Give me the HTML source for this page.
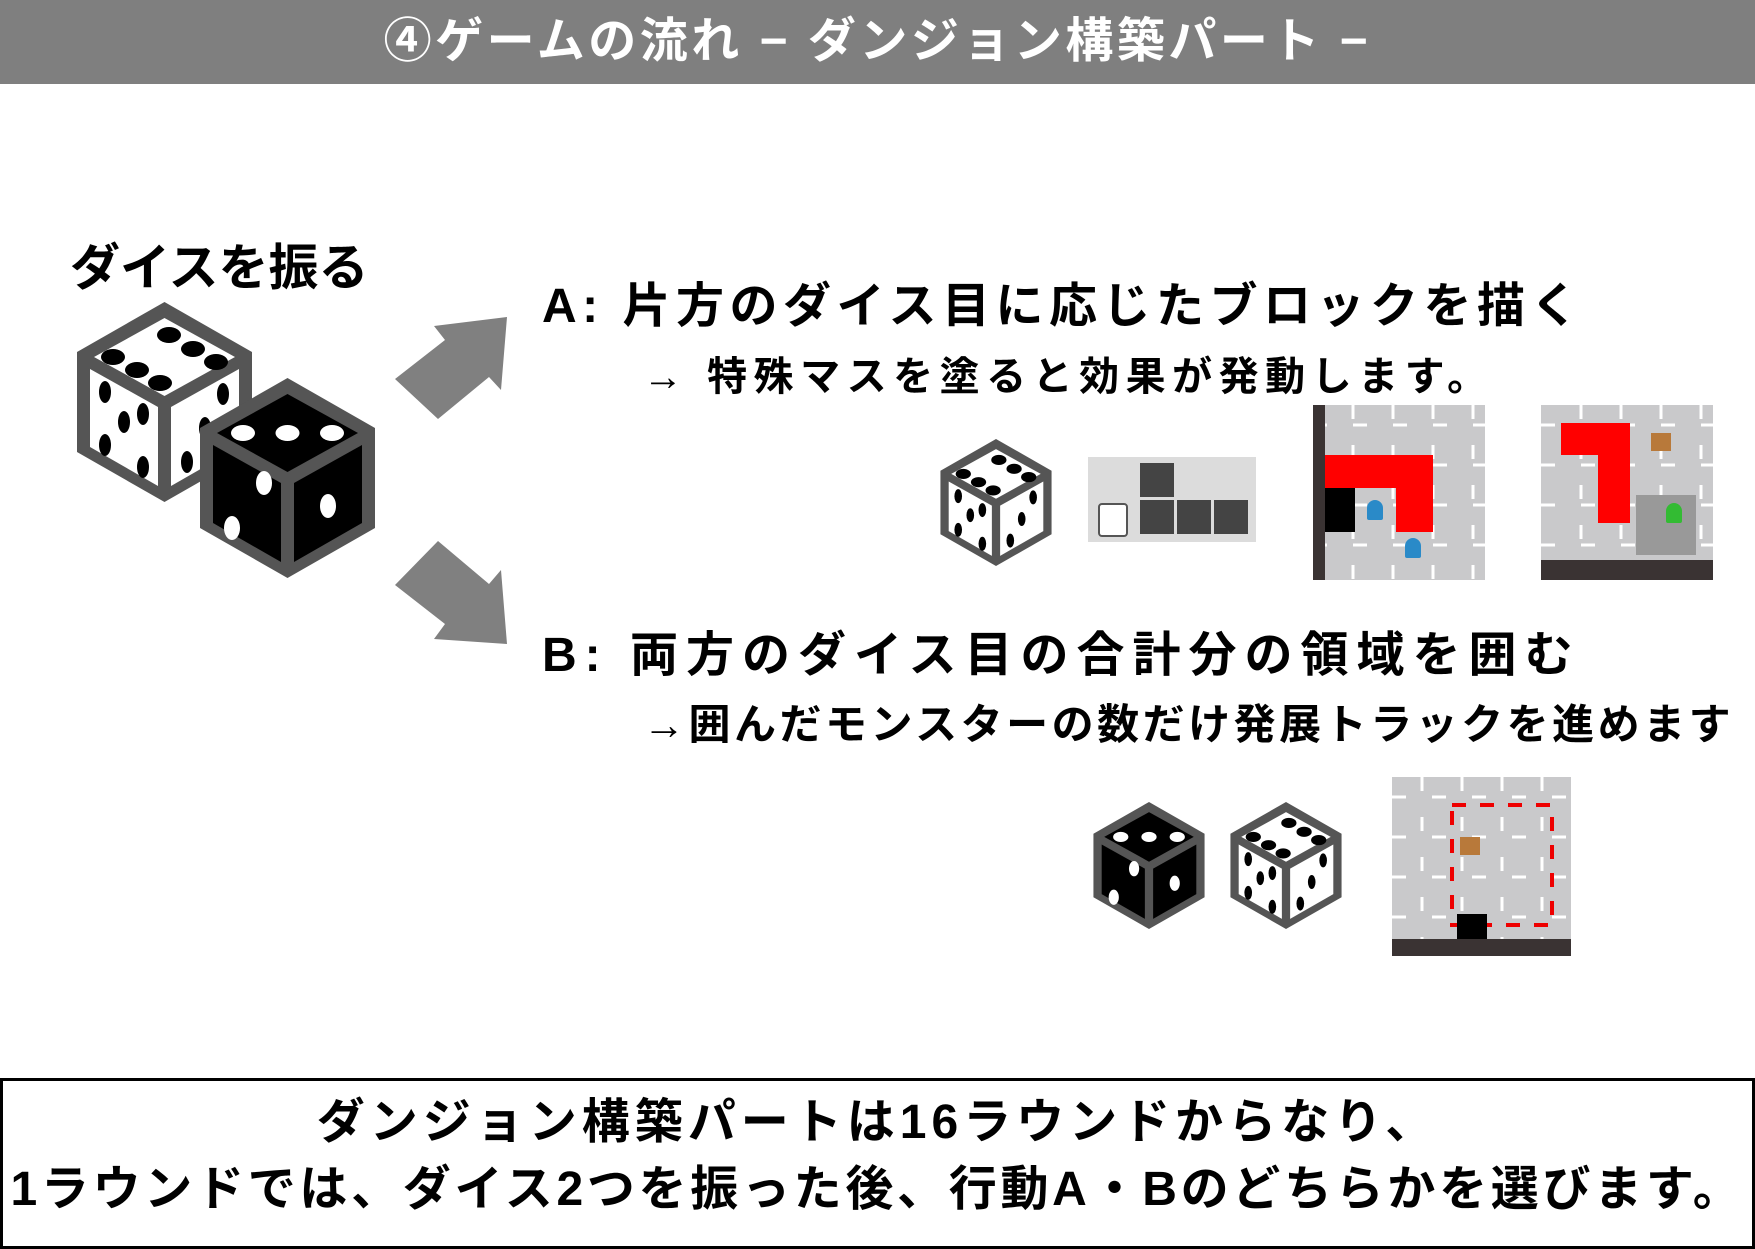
<!DOCTYPE html>
<html><head><meta charset="utf-8">
<style>
body{margin:0;width:1755px;height:1241px;background:#fff;position:relative;overflow:hidden;font-family:"Liberation Sans","Noto Sans CJK JP",sans-serif;font-weight:700;color:#000}
.a{position:absolute;white-space:nowrap}
#hdr{left:0;top:0;width:1755px;height:84px;background:#7f7f7f;color:#fff;font-size:48px;line-height:84px;text-align:center;letter-spacing:3.5px}
.map{position:absolute;background:#c9c9cb;overflow:hidden}
.map svg{position:absolute;left:0;top:0}
</style></head><body>
<div id="hdr" class="a">④ゲームの流れ − ダンジョン構築パート −</div>
<div class="a" style="left:70px;top:228px;font-size:50px">ダイスを振る</div>

<svg width="0" height="0" style="position:absolute">
<defs>
<g id="dw">
<polygon points="87.5,0 175,50 175,150 87.5,200 0,150 0,50" fill="#555"/>
<polygon points="87.5,16 158,55 87.5,94 17,55" fill="#fff"/>
<polygon points="13,67 81,105 81,184 13,145" fill="#fff"/>
<polygon points="94,105 162,67 162,145 94,184" fill="#fff"/>
</g>
<g id="db">
<polygon points="87.5,0 175,50 175,150 87.5,200 0,150 0,50" fill="#555"/>
<polygon points="87.5,16 158,55 87.5,94 17,55" fill="#000"/>
<polygon points="13,67 81,105 81,184 13,145" fill="#000"/>
<polygon points="94,105 162,67 162,145 94,184" fill="#000"/>
</g>
<g id="p6">
<ellipse cx="92" cy="33" rx="12" ry="8"/><ellipse cx="116" cy="47" rx="12" ry="8"/><ellipse cx="139" cy="60" rx="12" ry="8"/>
<ellipse cx="36" cy="55" rx="12" ry="8"/><ellipse cx="60" cy="68" rx="12" ry="8"/><ellipse cx="83" cy="81" rx="12" ry="8"/>
<ellipse cx="28" cy="90" rx="6" ry="11"/><ellipse cx="66" cy="112" rx="6" ry="11"/><ellipse cx="47" cy="120" rx="6" ry="11"/>
<ellipse cx="28" cy="143" rx="6" ry="11"/><ellipse cx="66" cy="165" rx="6" ry="11"/>
<ellipse cx="146" cy="92" rx="6" ry="11"/><ellipse cx="110" cy="160" rx="6" ry="11"/><ellipse cx="128" cy="126" rx="6" ry="11"/>
</g>
<g id="p3" fill="#fff">
<ellipse cx="43" cy="55" rx="12" ry="8"/><ellipse cx="87.5" cy="55" rx="12" ry="8"/><ellipse cx="132" cy="55" rx="12" ry="8"/>
<ellipse cx="32" cy="150" rx="8" ry="12"/><ellipse cx="64" cy="105" rx="8" ry="12"/><ellipse cx="128" cy="128" rx="8" ry="12"/>
</g>
</defs></svg>

<svg class="a" style="left:77px;top:302px" width="175" height="200" viewBox="0 0 175 200"><use href="#dw"/><use href="#p6"/></svg>
<svg class="a" style="left:200px;top:378px" width="175" height="200" viewBox="0 0 175 200"><use href="#db"/><use href="#p3"/></svg>

<svg class="a" style="left:390px;top:312px" width="125" height="340">
<polygon points="5,67 55,28 44,14 117,5 111,78 99,65 48,107" fill="#808080"/>
<polygon points="5,273 48,229 99,272 111,258 117,332 44,327 55,312" fill="#808080"/>
</svg>

<div class="a" style="left:542px;top:266px;font-size:48px;letter-spacing:5.5px">A: 片方のダイス目に応じたブロックを描く</div>
<div class="a" style="left:643px;top:344px;font-size:40px;letter-spacing:6.5px">→ 特殊マスを塗ると効果が発動します。</div>
<div class="a" style="left:542px;top:615px;font-size:48px;letter-spacing:8px">B: 両方のダイス目の合計分の領域を囲む</div>
<div class="a" style="left:643px;top:691px;font-size:42px;letter-spacing:3.5px">→囲んだモンスターの数だけ発展トラックを進めます</div>

<svg class="a" style="left:940px;top:439px" width="112" height="127" viewBox="0 0 175 200"><use href="#dw"/><use href="#p6"/></svg>
<div class="a" style="left:1088px;top:457px;width:168px;height:85px;background:#dcdcdc">
<div class="a" style="left:52px;top:6px;width:34px;height:34px;background:#444"></div>
<div class="a" style="left:52px;top:43px;width:34px;height:34px;background:#444"></div>
<div class="a" style="left:89px;top:43px;width:34px;height:34px;background:#444"></div>
<div class="a" style="left:126px;top:43px;width:34px;height:34px;background:#444"></div>
<div class="a" style="left:10px;top:46px;width:26px;height:30px;background:#fff;border:2px solid #555;border-radius:4px"></div>
</div>

<div class="map" style="left:1313px;top:405px;width:172px;height:175px">
<svg width="172" height="175"><g stroke="#fff" stroke-width="3" stroke-dasharray="14 26"><line x1="0" y1="20" x2="172" y2="20"/><line x1="0" y1="60" x2="172" y2="60"/><line x1="0" y1="100" x2="172" y2="100"/><line x1="0" y1="140" x2="172" y2="140"/><line x1="40" y1="0" x2="40" y2="175"/><line x1="80" y1="0" x2="80" y2="175"/><line x1="120" y1="0" x2="120" y2="175"/><line x1="160" y1="0" x2="160" y2="175"/></g></svg>
<div class="a" style="left:0;top:0;width:12px;height:175px;background:#3a3333"></div>
<div class="a" style="left:12px;top:50px;width:108px;height:33px;background:#f00"></div>
<div class="a" style="left:83px;top:50px;width:37px;height:77px;background:#f00"></div>
<div class="a" style="left:12px;top:83px;width:30px;height:44px;background:#000"></div>
<div class="a" style="left:54px;top:95px;width:16px;height:20px;background:#2a8ac8;border-radius:8px 8px 2px 2px"></div>
<div class="a" style="left:92px;top:133px;width:16px;height:20px;background:#2a8ac8;border-radius:8px 8px 2px 2px"></div>
</div>

<div class="map" style="left:1541px;top:405px;width:172px;height:175px">
<svg width="172" height="175"><g stroke="#fff" stroke-width="3" stroke-dasharray="14 26"><line x1="0" y1="20" x2="172" y2="20"/><line x1="0" y1="60" x2="172" y2="60"/><line x1="0" y1="100" x2="172" y2="100"/><line x1="0" y1="140" x2="172" y2="140"/><line x1="40" y1="0" x2="40" y2="175"/><line x1="80" y1="0" x2="80" y2="175"/><line x1="120" y1="0" x2="120" y2="175"/><line x1="160" y1="0" x2="160" y2="175"/></g></svg>
<div class="a" style="left:20px;top:18px;width:69px;height:32px;background:#f00"></div>
<div class="a" style="left:57px;top:18px;width:32px;height:100px;background:#f00"></div>
<div class="a" style="left:95px;top:90px;width:60px;height:60px;background:#999"></div>
<div class="a" style="left:125px;top:98px;width:16px;height:20px;background:#3b3;border-radius:8px 8px 2px 2px"></div>
<div class="a" style="left:110px;top:28px;width:20px;height:18px;background:#b8793a"></div>
<div class="a" style="left:0;top:155px;width:172px;height:20px;background:#3a3333"></div>
</div>

<svg class="a" style="left:1093px;top:802px" width="112" height="127" viewBox="0 0 175 200"><use href="#db"/><use href="#p3"/></svg>
<svg class="a" style="left:1230px;top:802px" width="112" height="127" viewBox="0 0 175 200"><use href="#dw"/><use href="#p6"/></svg>

<div class="map" style="left:1392px;top:777px;width:179px;height:179px">
<svg width="179" height="179"><g stroke="#fff" stroke-width="3" stroke-dasharray="14 26"><line x1="0" y1="20" x2="179" y2="20"/><line x1="0" y1="60" x2="179" y2="60"/><line x1="0" y1="100" x2="179" y2="100"/><line x1="0" y1="140" x2="179" y2="140"/><line x1="30" y1="0" x2="30" y2="179"/><line x1="70" y1="0" x2="70" y2="179"/><line x1="110" y1="0" x2="110" y2="179"/><line x1="150" y1="0" x2="150" y2="179"/></g>
<g stroke="#e00" stroke-width="4" stroke-dasharray="14 14" fill="none"><rect x="60" y="28" width="100" height="120"/></g></svg>
<div class="a" style="left:65px;top:137px;width:30px;height:32px;background:#000"></div>
<div class="a" style="left:0;top:162px;width:179px;height:17px;background:#3a3333"></div>
<div class="a" style="left:68px;top:60px;width:20px;height:18px;background:#b8793a"></div>
</div>

<div class="a" style="left:0;top:1078px;width:1749px;height:157px;border:3px solid #000;font-size:48px;text-align:center;line-height:67px;padding-top:8px;box-sizing:content-box"><span style="letter-spacing:5px">ダンジョン構築パートは16ラウンドからなり、</span><br><span style="letter-spacing:3.7px">1ラウンドでは、ダイス2つを振った後、行動A・Bのどちらかを選びます。</span></div>
</body></html>
